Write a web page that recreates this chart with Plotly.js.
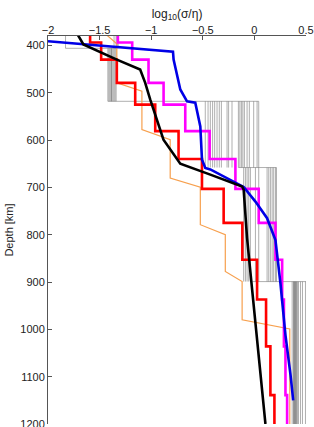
<!DOCTYPE html>
<html>
<head>
<meta charset="utf-8">
<script src="https://cdn.plot.ly/plotly-3.0.1.min.js"></script>
<style>html,body{margin:0;padding:0;background:#fff;}#chart{width:314px;height:427px;}</style>
</head>
<body>
<div id="chart"></div>
<script>
// Step-profile layer boundaries (depth, km) for the red and magenta models
const stepDepths = [375, 393.6, 430, 479, 525, 581, 640, 703, 775, 853, 937, 1036, 1139, 1200];
const redValues = [-1.592, -1.485, -1.333, -1.155, -0.961, -0.735, -0.508, -0.298, -0.117, 0.026, 0.113, 0.155, 0.194];
const magentaValues = [-1.323, -1.184, -1.026, -0.880, -0.670, -0.434, -0.184, 0.042, 0.204, 0.269, 0.286, 0.301, 0.317];

// Blue profile
const blueDepth = [391, 413, 430, 493, 518, 521, 571, 641, 659, 662, 699, 730, 765, 811, 902, 1012, 1096, 1150];
const blueValues = [-2.0, -0.789, -0.783, -0.718, -0.653, -0.573, -0.524, -0.508, -0.476, -0.427, -0.104, 0.010, 0.123, 0.204, 0.252, 0.301, 0.350, 0.376];

// Black profile
const blackDepth = [378, 398, 430, 451, 479, 514, 599, 650, 673, 698, 705, 807, 916, 1200];
const blackValues = [-1.71, -1.657, -1.333, -1.107, -1.058, -1.010, -0.881, -0.718, -0.427, -0.119, -0.104, -0.071, -0.022, 0.107];

// Orange profile
const orangeDepth = [364, 396.4, 479, 496.7, 577.8, 599, 680, 699.5, 778.8, 800, 877.7, 898.8, 979.9, 999, 1200];
const orangeValues = [-1.505, -1.333, -1.333, -1.090, -1.090, -0.816, -0.816, -0.524, -0.524, -0.282, -0.282, -0.119, -0.119, 0.343, 0.343];

// Gray ensemble: layer tops/bottoms and the values of the models in each layer
const grayTops = [375, 406, 518, 658, 899];
const grayBots = [406, 518, 658, 899, 1200];
const grayL1 = [-1.83, -1.36, -1.34, -1.33, -1.32];
const grayL2 = [-1.42, -1.41, -1.40, -1.39, -1.385, -1.38, -1.37, -1.36, -1.35, -1.34];
const grayL3 = [-0.476, -0.449, -0.427, -0.405, -0.385, -0.362, -0.340, -0.320, -0.265, -0.250, -0.217, -0.155, -0.141, -0.126, -0.112, -0.097, -0.071, -0.049, -0.007, 0.026, 0.042];
const grayL4 = [-0.104, -0.087, -0.071, -0.055, -0.039, 0.010, 0.042, 0.123, 0.139, 0.155, 0.172, 0.187, 0.204, 0.214];
const grayL5 = [0.366, 0.379, 0.383, 0.388, 0.393, 0.398, 0.403, 0.408, 0.417, 0.427, 0.447, 0.466, 0.495];
const grayLayers = [grayL1, grayL2, grayL3, grayL4, grayL5];
const grayEdgeDepth = [406, 518, 658, 899];
const grayEdgeMin = [-1.83, -1.42, -0.155, -0.02];
const grayEdgeMax = [-1.34, 0.042, 0.214, 0.50];

const xTicks = [-2, -1.5, -1, -0.5, 0, 0.5];
const xTickText = ['\u22122', '\u22121.5', '\u22121', '\u22120.5', '0', '0.5'];
const yTicks = [400, 500, 600, 700, 800, 900, 1000, 1100, 1200];

// build gray segments
const gx = [], gy = [];
grayLayers.forEach((vals, k) => {
  vals.forEach(v => { gx.push(v, v, null); gy.push(grayTops[k], grayBots[k], null); });
});
grayEdgeDepth.forEach((d, k) => { gx.push(grayEdgeMin[k], grayEdgeMax[k], null); gy.push(d, d, null); });

function stepX(vals) { return vals.concat([vals[vals.length - 1]]); }

const traces = [
  {x: gx, y: gy, mode: 'lines', line: {color: 'rgba(110,110,110,0.55)', width: 1}, hoverinfo: 'skip'},
  {x: orangeValues, y: orangeDepth, mode: 'lines', line: {color: '#f7a04e', width: 1.2}},
  {x: stepX(redValues), y: stepDepths, mode: 'lines', line: {color: '#ff0000', width: 2.6, shape: 'vh'}},
  {x: stepX(magentaValues), y: stepDepths, mode: 'lines', line: {color: '#ff00ff', width: 2.6, shape: 'vh'}},
  {x: blueValues, y: blueDepth, mode: 'lines', line: {color: '#0000e6', width: 2.6}},
  {x: blackValues, y: blackDepth, mode: 'lines', line: {color: '#000000', width: 2.6}}
];

const layout = {
  width: 314, height: 427,
  margin: {l: 48, r: 8, t: 36, b: 3},
  paper_bgcolor: '#fff', plot_bgcolor: '#fff',
  showlegend: false,
  font: {family: 'Liberation Sans, Arial, sans-serif', size: 11, color: '#222'},
  xaxis: {
    side: 'top', range: [-2, 0.5], tickvals: xTicks, ticktext: xTickText,
    ticks: 'inside', ticklen: 4, tickcolor: '#555', showline: true, linecolor: '#555', linewidth: 1,
    showgrid: false, zeroline: false, ticklabelstandoff: -3, ticklabeloverflow: 'allow',
    title: {text: 'log<sub>10</sub>(\u03c3/\u03b7)', font: {size: 12}, standoff: 2}
  },
  yaxis: {
    range: [1200, 380], tickvals: yTicks,
    ticks: 'inside', ticklen: 4, tickcolor: '#555', showline: true, linecolor: '#555', linewidth: 1,
    showgrid: false, zeroline: false, ticklabeloverflow: 'allow',
    title: {text: 'Depth [km]', font: {size: 11}, standoff: 4}
  }
};

Plotly.newPlot('chart', traces, layout, {displayModeBar: false, staticPlot: true});
</script>
</body>
</html>
